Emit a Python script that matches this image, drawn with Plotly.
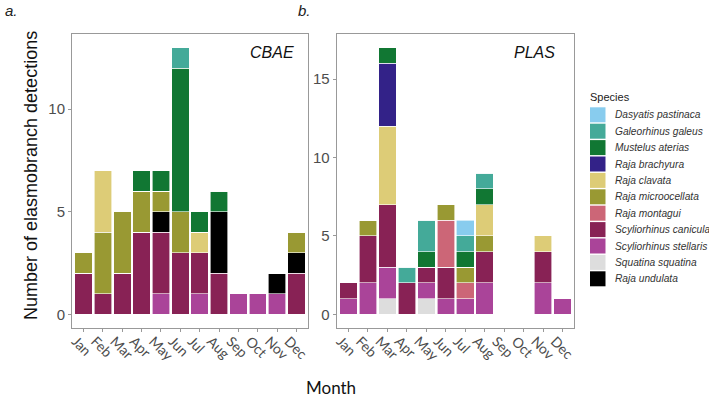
import plotly.graph_objects as go

months = ["Jan", "Feb", "Mar", "Apr", "May", "Jun", "Jul", "Aug", "Sep", "Oct", "Nov", "Dec"]

# stacking order (bottom -> top)
species = [
    "Squatina squatina", "Scyliorhinus stellaris", "Scyliorhinus canicula", "Raja undulata",
    "Raja montagui", "Raja microocellata", "Raja clavata", "Raja brachyura",
    "Mustelus aterias", "Galeorhinus galeus", "Dasyatis pastinaca",
]
# legend order
legend_order = [
    "Dasyatis pastinaca", "Galeorhinus galeus", "Mustelus aterias", "Raja brachyura",
    "Raja clavata", "Raja microocellata", "Raja montagui", "Scyliorhinus canicula",
    "Scyliorhinus stellaris", "Squatina squatina", "Raja undulata",
]
colors = {
    "Dasyatis pastinaca": "#88CCEE", "Galeorhinus galeus": "#44AA99",
    "Mustelus aterias": "#117733", "Raja brachyura": "#332288",
    "Raja clavata": "#DDCC77", "Raja microocellata": "#999933",
    "Raja montagui": "#CC6677", "Scyliorhinus canicula": "#882255",
    "Scyliorhinus stellaris": "#AA4499", "Squatina squatina": "#DDDDDD",
    "Raja undulata": "#000000",
}

#                           Jan Feb Mar Apr May Jun Jul Aug Sep Oct Nov Dec
cbae = {
    "Squatina squatina":      [0, 0, 0, 0, 0, 0, 0, 0, 0, 0, 0, 0],
    "Scyliorhinus stellaris": [0, 0, 0, 0, 1, 0, 1, 0, 1, 1, 1, 0],
    "Scyliorhinus canicula":  [2, 1, 2, 4, 3, 3, 2, 2, 0, 0, 0, 2],
    "Raja undulata":          [0, 0, 0, 0, 1, 0, 0, 3, 0, 0, 1, 1],
    "Raja montagui":          [0, 0, 0, 0, 0, 0, 0, 0, 0, 0, 0, 0],
    "Raja microocellata":     [1, 3, 3, 2, 1, 2, 0, 0, 0, 0, 0, 1],
    "Raja clavata":           [0, 3, 0, 0, 0, 0, 1, 0, 0, 0, 0, 0],
    "Raja brachyura":         [0, 0, 0, 0, 0, 0, 0, 0, 0, 0, 0, 0],
    "Mustelus aterias":       [0, 0, 0, 1, 1, 7, 1, 1, 0, 0, 0, 0],
    "Galeorhinus galeus":     [0, 0, 0, 0, 0, 1, 0, 0, 0, 0, 0, 0],
    "Dasyatis pastinaca":     [0, 0, 0, 0, 0, 0, 0, 0, 0, 0, 0, 0],
}
plas = {
    "Squatina squatina":      [0, 0, 1, 0, 1, 0, 0, 0, 0, 0, 0, 0],
    "Scyliorhinus stellaris": [1, 2, 2, 0, 1, 1, 1, 2, 0, 0, 2, 1],
    "Scyliorhinus canicula":  [1, 3, 4, 2, 1, 2, 0, 2, 0, 0, 2, 0],
    "Raja undulata":          [0, 0, 0, 0, 0, 0, 0, 0, 0, 0, 0, 0],
    "Raja montagui":          [0, 0, 0, 0, 0, 3, 1, 0, 0, 0, 0, 0],
    "Raja microocellata":     [0, 1, 0, 0, 0, 1, 1, 1, 0, 0, 0, 0],
    "Raja clavata":           [0, 0, 5, 0, 0, 0, 0, 2, 0, 0, 1, 0],
    "Raja brachyura":         [0, 0, 4, 0, 0, 0, 0, 0, 0, 0, 0, 0],
    "Mustelus aterias":       [0, 0, 1, 0, 1, 0, 1, 1, 0, 0, 0, 0],
    "Galeorhinus galeus":     [0, 0, 0, 1, 2, 0, 1, 1, 0, 0, 0, 0],
    "Dasyatis pastinaca":     [0, 0, 0, 0, 0, 0, 1, 0, 0, 0, 0, 0],
}

W, H = 709, 398
fig = go.Figure()

for sp in species:
    for data, xa, ya in [(cbae, "x", "y"), (plas, "x2", "y2")]:
        fig.add_trace(go.Bar(
            x=months, y=data[sp], name=sp, xaxis=xa, yaxis=ya,
            marker=dict(color=colors[sp], line=dict(color="white", width=0.6)),
            width=0.9, showlegend=False,
        ))

ytop = 1 - 34.3 / H
ybot = 1 - 327.7 / H
grey = "#999999"
tickfont = dict(family="Liberation Sans, Arial", size=15, color="#4D4D4D")
xtickfont = dict(family="Lato, Liberation Sans", size=14, color="#4D4D4D")

common_x = dict(type="category", categoryorder="array", categoryarray=months,
                range=[-0.6, 11.6], showline=True, mirror=True, linecolor=grey, linewidth=1,
                ticks="outside", ticklen=3, tickcolor=grey, tickangle=45,
                ticklabelshift=-8, ticklabelstandoff=-4,
                tickfont=xtickfont, showgrid=False, automargin=False, zeroline=False)
common_y = dict(showline=True, mirror=True, linecolor=grey, linewidth=1,
                ticks="outside", ticklen=3, tickcolor=grey, tickfont=tickfont,
                showgrid=False, zeroline=False, automargin=False)

fig.update_layout(
    width=W, height=H, barmode="stack",
    margin=dict(l=0, r=0, t=0, b=0),
    paper_bgcolor="white", plot_bgcolor="white",
    xaxis=dict(domain=[72 / W, 308 / W], anchor="y", **common_x),
    yaxis=dict(domain=[ybot, ytop], anchor="x", range=[-0.65, 13.65], tickvals=[0, 5, 10], **common_y),
    xaxis2=dict(domain=[336.7 / W, 574.3 / W], anchor="y2", **common_x),
    yaxis2=dict(domain=[ybot, ytop], anchor="x2", range=[-0.85, 17.85], tickvals=[0, 5, 10, 15], **common_y),
    showlegend=False,
)

# manual legend (key boxes + labels)
lx0, lx1, ltext = 590 / W, 605.5 / W, 613 / W
ystart, step, box = 107.3, 16.4, 15.0
fig.add_annotation(xref="paper", yref="paper", showarrow=False, text="Species",
                   x=588 / W, y=1 - 97 / H, xanchor="left", yanchor="middle",
                   font=dict(family="Liberation Sans, Arial", size=11, color="#222"))
for i, sp in enumerate(legend_order):
    top = ystart + i * step
    fig.add_shape(type="rect", xref="paper", yref="paper",
                  x0=lx0, x1=lx1, y0=1 - top / H, y1=1 - (top + box) / H,
                  fillcolor=colors[sp], line=dict(width=0), layer="above")
    fig.add_annotation(xref="paper", yref="paper", showarrow=False, text=sp,
                       x=ltext, y=1 - (top + box / 2) / H, xanchor="left", yanchor="middle",
                       font=dict(family="Liberation Sans, Arial", size=10.2, color="#333", style="italic"))

annots = [
    dict(text="a.", x=3 / W, y=1 - 11 / H, xanchor="left", yanchor="middle",
         font=dict(family="Liberation Sans, Arial", size=15, color="#222", style="italic")),
    dict(text="b.", x=296 / W, y=1 - 11 / H, xanchor="left", yanchor="middle",
         font=dict(family="Liberation Sans, Arial", size=15, color="#222", style="italic")),
    dict(text="CBAE", x=296 / W, y=1 - 53 / H, xanchor="right", yanchor="middle",
         font=dict(family="Liberation Sans, Arial", size=16, color="#111", style="italic")),
    dict(text="PLAS", x=557 / W, y=1 - 53 / H, xanchor="right", yanchor="middle",
         font=dict(family="Liberation Sans, Arial", size=16, color="#111", style="italic")),
    dict(text="Number of elasmobranch detections", x=31 / W, y=1 - 176 / H, textangle=-90,
         xanchor="center", yanchor="middle",
         font=dict(family="Liberation Sans, Arial", size=18, color="#111")),
    dict(text="Month", x=331 / W, y=1 - 387 / H, xanchor="center", yanchor="middle",
         font=dict(family="Lato, Liberation Sans", size=17, color="#111")),
]
for a in annots:
    fig.add_annotation(xref="paper", yref="paper", showarrow=False, **a)

fig.write_html("out.html", config={"displayModeBar": False},
               post_script="document.body.style.margin='0';document.body.style.overflow='hidden';")
